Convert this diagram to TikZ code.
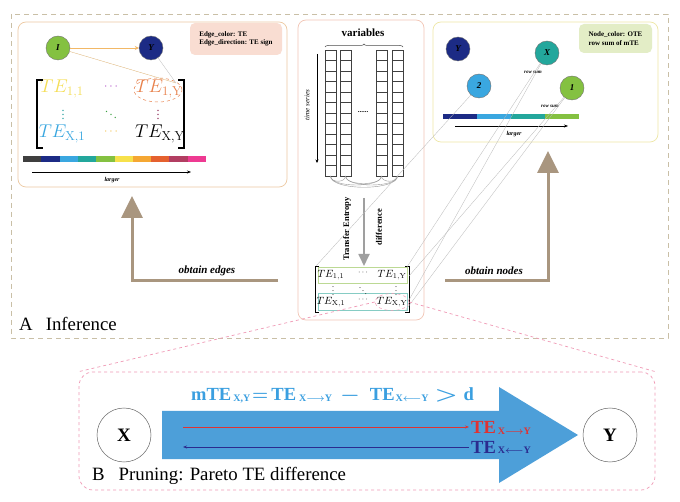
\RequirePackage{fix-cm}
\documentclass[tikz,border=0pt]{standalone}
\usepackage[no-math]{fontspec}
\usepackage{graphicx}
\setmainfont{Liberation Serif}
\usetikzlibrary{arrows.meta,decorations.pathreplacing,shapes.geometric}
\definecolor{tanline}{HTML}{C9BFA6}
\definecolor{boxL}{HTML}{EDC9A2}
\definecolor{boxM}{HTML}{F2C6B6}
\definecolor{boxR}{HTML}{EEE7A6}
\definecolor{salmon}{HTML}{F9DDD2}
\definecolor{greenleg}{HTML}{E3EDC6}
\definecolor{navy}{HTML}{1C2B85}
\definecolor{lblue}{HTML}{3AA7E0}
\definecolor{tealc}{HTML}{23A79C}
\definecolor{greenc}{HTML}{84C141}
\definecolor{yellowc}{HTML}{F7E14B}
\definecolor{orangec}{HTML}{F5A733}
\definecolor{redorange}{HTML}{E5612F}
\definecolor{maroonc}{HTML}{B23E62}
\definecolor{pinkc}{HTML}{EE3A92}
\definecolor{darkgray}{HTML}{3F3F3F}
\definecolor{tanarrow}{HTML}{A9967F}
\definecolor{pinkdash}{HTML}{F09AB6}
\definecolor{bluearrow}{HTML}{4D9FD9}
\definecolor{eqblue}{HTML}{3A9FE0}
\definecolor{oTE}{HTML}{E8814B}
\definecolor{yTE}{HTML}{F5DE55}
\definecolor{pDot}{HTML}{B04DC8}
\definecolor{tDot}{HTML}{1A9A9A}
\definecolor{gDot}{HTML}{3AA040}
\definecolor{mDot}{HTML}{8B2452}
\definecolor{yDot}{HTML}{F3C24A}
\definecolor{arrowO}{HTML}{F2B866}
\definecolor{teRed}{HTML}{E03232}
\definecolor{teBlue}{HTML}{2B2B8E}
\definecolor{rowG}{HTML}{BCD994}
\definecolor{rowT}{HTML}{86CCC4}
\newcommand{\mysub}[1]{{\fontsize{10}{10}\selectfont\boldmath\raisebox{-0.7pt}{#1}}}
\newcommand{\mysubs}[1]{{\fontsize{10}{10}\selectfont\boldmath\raisebox{-1pt}{#1}}}
\begin{document}
\begin{tikzpicture}[x=1pt,y=-1pt,
  circ/.style={circle, draw=black!55, line width=0.4pt, minimum size=24pt, inner sep=0pt, font=\bfseries\itshape\fontsize{9}{9}\selectfont},
  bigTE/.style={inner sep=0pt, font=\fontsize{18.5}{18.5}\selectfont},
  bigdot/.style={inner sep=0pt, font=\fontsize{12}{12}\selectfont},
  smTE/.style={inner sep=0pt, font=\fontsize{10.5}{10.5}\selectfont},
  smdot/.style={inner sep=0pt, font=\fontsize{8}{8}\selectfont},
  legend/.style={rounded corners=5pt, inner sep=2pt, align=left, font=\bfseries\fontsize{7}{8.5}\selectfont},
  tiny/.style={inner sep=0pt, font=\itshape\fontsize{5.5}{6}\selectfont},
  bigarr/.style={tanarrow, line width=3pt, -{Triangle[width=21pt,length=22pt]}},
  thinl/.style={gray!55, line width=0.3pt},
  cell/.style={draw=black!75, line width=0.4pt},
  bigcirc/.style={circle, draw=black!60, line width=0.5pt, minimum size=54pt, inner sep=0pt, font=\bfseries\fontsize{19}{19}\selectfont},
  lbl/.style={inner sep=0pt, font=\fontsize{18.8}{19}\selectfont}
]
\useasboundingbox (0,0) rectangle (680,502);
\fill[white] (0,0) rectangle (680,502);

% ---------- A frame ----------
\draw[tanline, line width=0.6pt, dash pattern=on 5pt off 4pt] (11,14) rectangle (668,338);
\node[lbl, anchor=base west] (Alab) at (19,331) {A\hspace{13pt}Inference};

% ---------- left box ----------
\draw[boxL, line width=0.7pt, rounded corners=8pt] (18,22) rectangle (287,187);
\node[legend, fill=salmon, minimum width=92pt, minimum height=32pt] (legE) at (236,39) {Edge\_color: TE\\Edge\_direction: TE sign};
\node[circ, fill=greenc] (lI) at (58,48) {I};
\node[circ, fill=navy] (lY) at (151,48) {Y};
\draw[arrowO, line width=0.7pt, -{Stealth[length=4pt,width=4pt]}] (lI) -- (lY);

\node[bigTE, text=yTE] (m11) at (62,89) {$TE_{\mathrm{1,1}}$};
\node[bigdot, text=pDot] (m12) at (111,87) {$\cdots$};
\node[bigTE, text=oTE] (m1Y) at (159,89) {$TE_{\mathrm{1,Y}}$};
\node[bigdot, text=tDot] (mv1) at (63,112) {$\vdots$};
\node[bigdot, text=gDot] (mdd) at (111,112) {$\ddots$};
\node[bigdot, text=mDot] (mv2) at (158,112) {$\vdots$};
\node[bigTE, text=lblue] (mX1) at (62,134) {$TE_{\mathrm{X,1}}$};
\node[bigdot, text=yDot] (mX2) at (111,132) {$\cdots$};
\node[bigTE, text=black] (mXY) at (160,134) {$TE_{\mathrm{X,Y}}$};
\node[ellipse, draw=oTE, dashed, line width=0.5pt, minimum width=48pt, minimum height=24pt] (ell1) at (158,90) {};
\coordinate (ellpt) at (176,83);
\draw[arrowO!80!gray, line width=0.3pt] (lI) -- (ellpt);
\draw[gray!50, line width=0.3pt] (lY) -- (ellpt);
% brackets
\draw[black, line width=1.1pt] (43,80) -- (37,80) -- (37,148) -- (43,148);
\draw[black, line width=1.1pt] (178,80) -- (184,80) -- (184,148) -- (178,148);
% colour bar
\foreach \c [count=\i from 0] in {darkgray,navy,lblue,tealc,greenc,yellowc,orangec,redorange,maroonc,pinkc}
  \fill[\c] ({23+\i*18.3},156) rectangle ({23+(\i+1)*18.3},162);
\coordinate (lgA) at (32,172);
\coordinate (lgB) at (191,172);
\draw[black, line width=0.5pt, -{Stealth[length=4pt,width=3pt]}] (lgA) -- (lgB);
\node[tiny, font=\bfseries\itshape\fontsize{6}{6}\selectfont] (lgT) at (112,180) {larger};

% ---------- middle box ----------
\draw[boxM, line width=0.7pt, rounded corners=8pt] (298,20) rectangle (424,320);
\node[inner sep=0pt, font=\bfseries\fontsize{11}{11}\selectfont] (varT) at (363,33) {variables};
\draw[black!70, line width=0.5pt, decorate, decoration={brace, amplitude=3pt}] (325,47) -- (403,47);
\foreach \cx in {325,340,376,392}
  \foreach \i in {0,...,11}
    \draw[cell] (\cx,{50+\i*10.5}) rectangle ++(11,10.5);
\node[inner sep=0pt, font=\bfseries\fontsize{7}{7}\selectfont] (dots) at (363,112) {......};
\coordinate (tsA) at (317,54);
\coordinate (tsB) at (317,163);
\draw[black, line width=0.5pt, -{Stealth[length=3.5pt,width=3pt]}] (tsA) -- (tsB);
\node[inner sep=0pt, rotate=90, font=\itshape\fontsize{7}{7}\selectfont] (tsT) at (307,105) {time series};
% arcs under the columns
\foreach \a/\b/\h in {330.5/345.5/7, 345.5/381.5/10, 381.5/397.5/7, 330.5/381.5/12, 345.5/397.5/12, 330.5/397.5/15}
  \draw[gray!80, line width=0.4pt] (\a,176) .. controls (\a,{176+\h}) and (\b,{176+\h}) .. (\b,176);
\coordinate (gaA) at (364,198);
\coordinate (gaB) at (364,266);
\draw[gray!75, line width=1.8pt, -{Triangle[width=11pt,length=12pt]}] (gaA) -- (gaB);
\node[inner sep=0pt, rotate=90, font=\bfseries\fontsize{8.5}{8.5}\selectfont] (teT) at (347,229) {Transfer Entropy};
\node[inner sep=0pt, rotate=90, font=\bfseries\fontsize{8.5}{8.5}\selectfont] (dfT) at (379,227) {difference};
% small matrix
\draw[rowG, line width=0.7pt] (318,267) rectangle (407,283);
\draw[rowT, line width=0.7pt] (318,293) rectangle (407,310);
\draw[black, line width=0.7pt] (319,266) -- (315,266) -- (315,312) -- (319,312);
\draw[black, line width=0.7pt] (405,266) -- (409,266) -- (409,312) -- (405,312);
\node[smTE] (s11) at (331,275) {$TE_{\mathrm{1,1}}$};
\node[smdot] (s12) at (363,273) {$\cdots$};
\node[smTE] (s1Y) at (392,275) {$TE_{\mathrm{1,Y}}$};
\node[smdot] (sv1) at (333,288) {$\vdots$};
\node[smdot] (sdd) at (363,288) {$\ddots$};
\node[smdot] (sv2) at (396,288) {$\vdots$};
\node[smTE] (sX1) at (331,302) {$TE_{\mathrm{X,1}}$};
\node[smdot] (sX2) at (363,300) {$\cdots$};
\node[smTE] (sXY) at (392,302) {$TE_{\mathrm{X,Y}}$};
\node[ellipse, draw=pinkdash, dashed, line width=0.5pt, minimum width=34pt, minimum height=17pt] (ellXY) at (392,302) {};

% ---------- right box ----------
\draw[boxR, line width=0.7pt, rounded corners=8pt] (433,22) rectangle (658,142);
\node[legend, fill=greenleg, minimum width=73pt, minimum height=29pt] (legN) at (615.5,38.5) {Node\_color: OTE\\row sum of mTE};
\node[circ, fill=navy] (rY) at (458,49) {Y};
\node[circ, fill=tealc] (rX) at (547,53) {X};
\node[circ, fill=lblue] (r2) at (479,86) {2};
\node[circ, fill=greenc] (r1) at (572,88) {1};
\node[tiny, font=\bfseries\itshape\fontsize{5}{5}\selectfont] (rs1) at (533,72) {row sum};
\node[tiny, font=\bfseries\itshape\fontsize{5}{5}\selectfont] (rs2) at (550,106) {row sum};
\foreach \c [count=\i from 0] in {navy,lblue,tealc,greenc}
  \fill[\c] ({443+\i*34},114) rectangle ({443+(\i+1)*34},119);
\coordinate (rgA) at (455,126);
\coordinate (rgB) at (568,126);
\draw[black, line width=0.5pt, -{Stealth[length=4pt,width=3pt]}] (rgA) -- (rgB);
\node[tiny, font=\bfseries\itshape\fontsize{6}{6}\selectfont] (rgT) at (514,134) {larger};

% thin connection lines
\coordinate (c1) at (316,266);
\coordinate (c2) at (407,267);
\coordinate (c3) at (409,300);
\coordinate (c4) at (409,276);
\coordinate (c5) at (405,311);
\draw[thinl] (c1) -- (r2);
\draw[thinl] (c2) -- (rX);
\draw[thinl] (c3) -- (rX);
\draw[thinl] (c4) -- (r1);
\draw[thinl] (c5) -- (r1);

% ---------- big arrows ----------
\coordinate (eA) at (278,281);
\coordinate (eB) at (132,281);
\coordinate (eC) at (132,196);
\draw[bigarr] (eA) -- (eB) -- (eC);
\node[inner sep=0pt, font=\bfseries\itshape\fontsize{11}{11}\selectfont] (oe) at (207,271) {obtain edges};
\coordinate (nA) at (445,281);
\coordinate (nB) at (548,281);
\coordinate (nC) at (548,151);
\draw[bigarr] (nA) -- (nB) -- (nC);
\node[inner sep=0pt, font=\bfseries\itshape\fontsize{11}{11}\selectfont] (on) at (494,271) {obtain nodes};

% ---------- B part ----------
\node[draw=pinkdash, dashed, line width=0.7pt, rounded corners=14pt, minimum width=576pt, minimum height=118pt, inner sep=0pt] (Bbox) at (367,431) {};
\draw[pinkdash, dashed, line width=0.7pt] (ellXY.west) -- (Bbox.north west);
\draw[pinkdash, dashed, line width=0.7pt] (ellXY.east) -- (Bbox.north east);
\fill[bluearrow] (162,411) -- (499,411) -- (499,387) -- (578,435) -- (499,483) -- (499,459) -- (162,459) -- cycle;
\node[bigcirc] (BX) at (124,435) {X};
\node[bigcirc] (BY) at (610,435) {Y};
\node[inner sep=0pt, anchor=base west, text=eqblue, font=\bfseries\fontsize{18.5}{18.5}\selectfont] (eq) at (191,401)
  {mTE\hspace{2pt}\mysub{X,Y}\hspace{2pt}{\boldmath$=$}\hspace{3pt}TE\hspace{3pt}\mysub{X$\longrightarrow$Y}\hspace{8pt}\scalebox{1.2}[1]{\boldmath$-$}\hspace{10pt}TE\hspace{1pt}\mysub{X$\longleftarrow$Y}\hspace{6pt}\scalebox{1.4}[1]{\boldmath$>$}\hspace{6pt}d};
\coordinate (rlA) at (183,427);
\coordinate (rlB) at (469,427);
\draw[teRed, line width=0.6pt, -{Stealth[length=4pt,width=3pt]}] (rlA) -- (rlB);
\coordinate (blA) at (469,447);
\coordinate (blB) at (183,447);
\draw[teBlue, line width=0.6pt, -{Stealth[length=4pt,width=3pt]}] (blA) -- (blB);
\node[inner sep=0pt, anchor=base west, text=teRed, font=\bfseries\fontsize{18.5}{18.5}\selectfont] (teXY) at (471,433) {TE\hspace{2pt}\mysubs{X$\longrightarrow$Y}};
\node[inner sep=0pt, anchor=base west, text=teBlue, font=\bfseries\fontsize{18.5}{18.5}\selectfont] (teYX) at (471,453) {TE\hspace{2pt}\mysubs{X$\longleftarrow$Y}};
\node[lbl, anchor=base west] (Blab) at (92,480) {B\hspace{14pt}Pruning: Pareto TE difference};
\end{tikzpicture}
\end{document}
